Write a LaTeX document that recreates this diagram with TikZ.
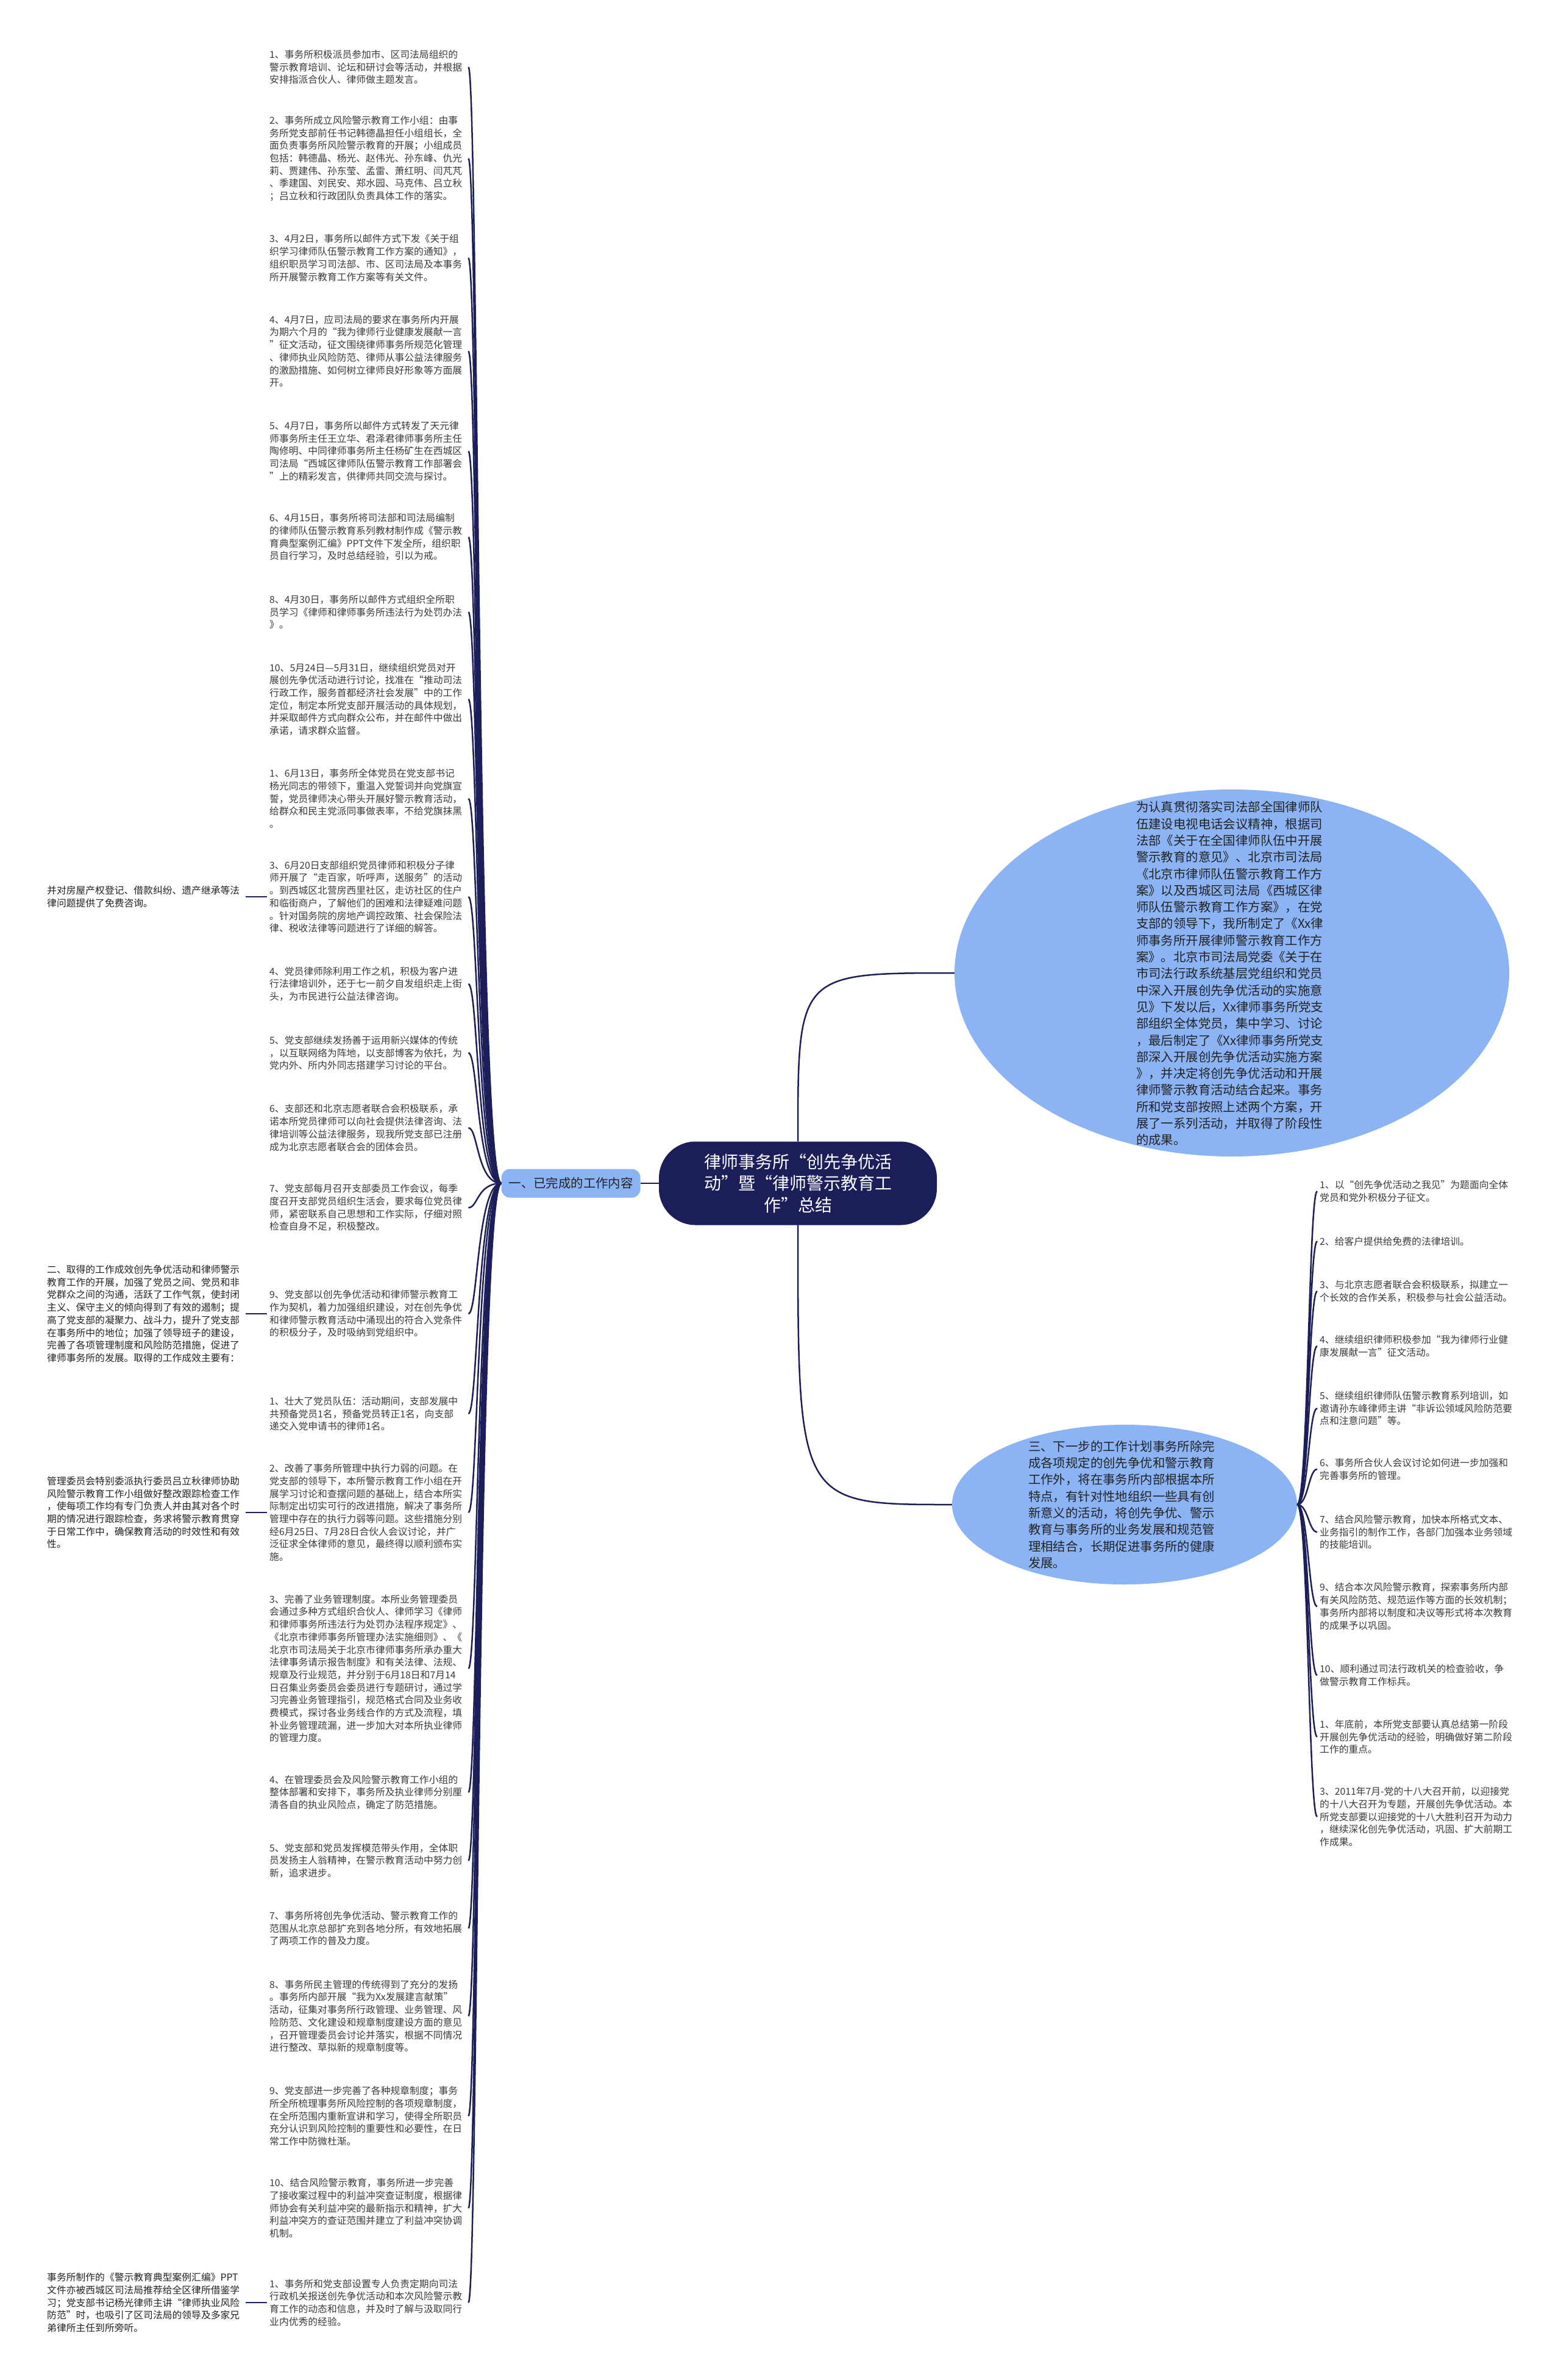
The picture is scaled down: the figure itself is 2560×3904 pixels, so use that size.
\documentclass[tikz,border=0pt]{standalone}
\usepackage{fontspec}
\setmainfont{Noto Sans CJK SC}
\usepackage{xcolor}
\usepackage{tikz}
\usetikzlibrary{positioning, shapes.geometric}
\definecolor{navy}{HTML}{1C1E5A}
\definecolor{bubbleblue}{HTML}{8CB4F5}
\definecolor{leafgray}{HTML}{3A3A3A}
\definecolor{inkgray}{HTML}{222222}
\setlength{\parindent}{0pt}
\newcommand\leaffont{\fontsize{15.8pt}{20.7pt}\selectfont}
\newcommand\bubblefont{\fontsize{20.4pt}{27.3pt}\selectfont}
\newcommand\titlefont{\fontsize{28pt}{35.7pt}\selectfont}

\begin{document}
\begin{tikzpicture}[x=1pt, y=-1pt,
  root/.style={rectangle, rounded corners=60pt, fill=navy, text=white,
               minimum width=456pt, minimum height=137pt, align=center, font=\titlefont},
  branch/.style={rectangle, rounded corners=14pt, fill=bubbleblue, text=inkgray,
                 minimum height=47pt, inner xsep=12pt, font=\bubblefont},
  bubble/.style={ellipse, fill=bubbleblue, inner sep=0pt},
  bubbletext/.style={text width=310pt, align=left, inner sep=0pt, text=inkgray, font=\bubblefont},
  leaf/.style={anchor=west, text width=322pt, align=left, inner xsep=4pt, inner ysep=2pt,
               text=leafgray, font=\leaffont},
  farleaf/.style={leaf, text=inkgray},
  link/.style={draw=navy, line width=2.5pt}
]
\fill[white] (0,0) rectangle (2560,3904);
\useasboundingbox (0,0) rectangle (2560,3904);

% Title
\node[root] (title) at (1309,1941) {律师事务所“创先争优活\\动”暨“律师警示教育工\\作”总结};

% Branch one
\node[branch, left=30pt of title] (done) {一、已完成的工作内容};

% Bubbles
\node[bubble, minimum width=910pt, minimum height=602pt] (idea) at (2021,1596) {};
\node[bubbletext] (ideatext) at (2019,1597) {为认真贯彻落实司法部全国律师队\\伍建设电视电话会议精神，根据司\\法部《关于在全国律师队伍中开展\\警示教育的意见》、北京市司法局\\《北京市律师队伍警示教育工作方\\案》以及西城区司法局《西城区律\\师队伍警示教育工作方案》，在党\\支部的领导下，我所制定了《Xx律\\师事务所开展律师警示教育工作方\\案》。北京市司法局党委《关于在\\市司法行政系统基层党组织和党员\\中深入开展创先争优活动的实施意\\见》下发以后，Xx律师事务所党支\\部组织全体党员，集中学习、讨论\\，最后制定了《Xx律师事务所党支\\部深入开展创先争优活动实施方案\\》，并决定将创先争优活动和开展\\律师警示教育活动结合起来。事务\\所和党支部按照上述两个方案，开\\展了一系列活动，并取得了阶段性\\的成果。};
\node[bubble, minimum width=566pt, minimum height=262pt] (plan) at (1845,2468) {};
\node[bubbletext, text width=306pt] (plantext) at (1840,2468) {三、下一步的工作计划事务所除完\\成各项规定的创先争优和警示教育\\工作外，将在事务所内部根据本所\\特点，有针对性地组织一些具有创\\新意义的活动，将创先争优、警示\\教育与事务所的业务发展和规范管\\理相结合，长期促进事务所的健康\\发展。};

% Work done
\node[leaf] (w1) at (438,110) {1、事务所积极派员参加市、区司法局组织的\\警示教育培训、论坛和研讨会等活动，并根据\\安排指派合伙人、律师做主题发言。};
\node[leaf] (w2) at (438,260) {2、事务所成立风险警示教育工作小组：由事\\务所党支部前任书记韩德晶担任小组组长，全\\面负责事务所风险警示教育的开展；小组成员\\包括：韩德晶、杨光、赵伟光、孙东峰、仇光\\莉、贾建伟、孙东莹、孟雷、萧红明、闫芃芃\\、季建国、刘民安、郑水园、马克伟、吕立秋\\；吕立秋和行政团队负责具体工作的落实。};
\node[leaf] (w3) at (438,423) {3、4月2日，事务所以邮件方式下发《关于组\\织学习律师队伍警示教育工作方案的通知》，\\组织职员学习司法部、市、区司法局及本事务\\所开展警示教育工作方案等有关文件。};
\node[leaf] (w4) at (438,576) {4、4月7日，应司法局的要求在事务所内开展\\为期六个月的“我为律师行业健康发展献一言\\”征文活动，征文围绕律师事务所规范化管理\\、律师执业风险防范、律师从事公益法律服务\\的激励措施、如何树立律师良好形象等方面展\\开。};
\node[leaf] (w5) at (438,740) {5、4月7日，事务所以邮件方式转发了天元律\\师事务所主任王立华、君泽君律师事务所主任\\陶修明、中同律师事务所主任杨矿生在西城区\\司法局“西城区律师队伍警示教育工作部署会\\”上的精彩发言，供律师共同交流与探讨。};
\node[leaf] (w6) at (438,881) {6、4月15日，事务所将司法部和司法局编制\\的律师队伍警示教育系列教材制作成《警示教\\育典型案例汇编》PPT文件下发全所，组织职\\员自行学习，及时总结经验，引以为戒。};
\node[leaf] (w7) at (438,1004) {8、4月30日，事务所以邮件方式组织全所职\\员学习《律师和律师事务所违法行为处罚办法\\》。};
\node[leaf] (w8) at (438,1147) {10、5月24日—5月31日，继续组织党员对开\\展创先争优活动进行讨论，找准在“推动司法\\行政工作，服务首都经济社会发展”中的工作\\定位，制定本所党支部开展活动的具体规划，\\并采取邮件方式向群众公布，并在邮件中做出\\承诺，请求群众监督。};
\node[leaf] (w9) at (438,1310) {1、6月13日，事务所全体党员在党支部书记\\杨光同志的带领下，重温入党誓词并向党旗宣\\誓，党员律师决心带头开展好警示教育活动，\\给群众和民主党派同事做表率，不给党旗抹黑\\。};
\node[leaf] (w10) at (438,1471) {3、6月20日支部组织党员律师和积极分子律\\师开展了“走百家，听呼声，送服务”的活动\\。到西城区北营房西里社区，走访社区的住户\\和临街商户，了解他们的困难和法律疑难问题\\。针对国务院的房地产调控政策、社会保险法\\律、税收法律等问题进行了详细的解答。};
\node[leaf] (w11) at (438,1614) {4、党员律师除利用工作之机，积极为客户进\\行法律培训外，还于七一前夕自发组织走上街\\头，为市民进行公益法律咨询。};
\node[leaf] (w12) at (438,1727) {5、党支部继续发扬善于运用新兴媒体的传统\\，以互联网络为阵地，以支部博客为依托，为\\党内外、所内外同志搭建学习讨论的平台。};
\node[leaf] (w13) at (438,1850) {6、支部还和北京志愿者联合会积极联系，承\\诺本所党员律师可以向社会提供法律咨询、法\\律培训等公益法律服务，现我所党支部已注册\\成为北京志愿者联合会的团体会员。};
\node[leaf] (w14) at (438,1981) {7、党支部每月召开支部委员工作会议，每季\\度召开支部党员组织生活会，要求每位党员律\\师，紧密联系自己思想和工作实际，仔细对照\\检查自身不足，积极整改。};
\node[leaf] (w15) at (438,2155) {9、党支部以创先争优活动和律师警示教育工\\作为契机，着力加强组织建设，对在创先争优\\和律师警示教育活动中涌现出的符合入党条件\\的积极分子，及时吸纳到党组织中。};
\node[leaf] (w16) at (438,2319) {1、壮大了党员队伍：活动期间，支部发展中\\共预备党员1名，预备党员转正1名，向支部\\递交入党申请书的律师1名。};
\node[leaf] (w17) at (438,2481) {2、改善了事务所管理中执行力弱的问题。在\\党支部的领导下，本所警示教育工作小组在开\\展学习讨论和查摆问题的基础上，结合本所实\\际制定出切实可行的改进措施，解决了事务所\\管理中存在的执行力弱等问题。这些措施分别\\经6月25日、7月28日合伙人会议讨论，并广\\泛征求全体律师的意见，最终得以顺利颁布实\\施。};
\node[leaf] (w18) at (438,2737) {3、完善了业务管理制度。本所业务管理委员\\会通过多种方式组织合伙人、律师学习《律师\\和律师事务所违法行为处罚办法程序规定》、\\《北京市律师事务所管理办法实施细则》、《\\北京市司法局关于北京市律师事务所承办重大\\法律事务请示报告制度》和有关法律、法规、\\规章及行业规范，并分别于6月18日和7月14\\日召集业务委员会委员进行专题研讨，通过学\\习完善业务管理指引，规范格式合同及业务收\\费模式，探讨各业务线合作的方式及流程，填\\补业务管理疏漏，进一步加大对本所执业律师\\的管理力度。};
\node[leaf] (w19) at (438,2940) {4、在管理委员会及风险警示教育工作小组的\\整体部署和安排下，事务所及执业律师分别厘\\清各自的执业风险点，确定了防范措施。};
\node[leaf] (w20) at (438,3052) {5、党支部和党员发挥模范带头作用，全体职\\员发扬主人翁精神，在警示教育活动中努力创\\新，追求进步。};
\node[leaf] (w21) at (438,3163) {7、事务所将创先争优活动、警示教育工作的\\范围从北京总部扩充到各地分所，有效地拓展\\了两项工作的普及力度。};
\node[leaf] (w22) at (438,3307) {8、事务所民主管理的传统得到了充分的发扬\\。事务所内部开展“我为Xx发展建言献策”\\活动，征集对事务所行政管理、业务管理、风\\险防范、文化建设和规章制度建设方面的意见\\，召开管理委员会讨论并落实，根据不同情况\\进行整改、草拟新的规章制度等。};
\node[leaf] (w23) at (438,3471) {9、党支部进一步完善了各种规章制度；事务\\所全所梳理事务所风险控制的各项规章制度，\\在全所范围内重新宣讲和学习，使得全所职员\\充分认识到风险控制的重要性和必要性，在日\\常工作中防微杜渐。};
\node[leaf] (w24) at (438,3622) {10、结合风险警示教育，事务所进一步完善\\了接收案过程中的利益冲突查证制度，根据律\\师协会有关利益冲突的最新指示和精神，扩大\\利益冲突方的查证范围并建立了利益冲突协调\\机制。};
\node[leaf] (w25) at (438,3777) {1、事务所和党支部设置专人负责定期向司法\\行政机关报送创先争优活动和本次风险警示教\\育工作的动态和信息，并及时了解与汲取同行\\业内优秀的经验。};

% Far left notes
\node[farleaf] (x1) at (73,1471) {并对房屋产权登记、借款纠纷、遗产继承等法\\律问题提供了免费咨询。};
\node[farleaf] (x2) at (73,2155) {二、取得的工作成效创先争优活动和律师警示\\教育工作的开展，加强了党员之间、党员和非\\党群众之间的沟通，活跃了工作气氛，使封闭\\主义、保守主义的倾向得到了有效的遏制；提\\高了党支部的凝聚力、战斗力，提升了党支部\\在事务所中的地位；加强了领导班子的建设，\\完善了各项管理制度和风险防范措施，促进了\\律师事务所的发展。取得的工作成效主要有：};
\node[farleaf] (x3) at (73,2481) {管理委员会特别委派执行委员吕立秋律师协助\\风险警示教育工作小组做好整改跟踪检查工作\\，使每项工作均有专门负责人并由其对各个时\\期的情况进行跟踪检查，务求将警示教育贯穿\\于日常工作中，确保教育活动的时效性和有效\\性。};
\node[farleaf] (x4) at (73,3777) {事务所制作的《警示教育典型案例汇编》PPT\\文件亦被西城区司法局推荐给全区律所借鉴学\\习；党支部书记杨光律师主讲“律师执业风险\\防范”时，也吸引了区司法局的领导及多家兄\\弟律所主任到所旁听。};

% Plan items
\node[leaf] (p1) at (2161,1954) {1、以“创先争优活动之我见”为题面向全体\\党员和党外积极分子征文。};
\node[leaf] (p2) at (2161,2036) {2、给客户提供给免费的法律培训。};
\node[leaf] (p3) at (2161,2118) {3、与北京志愿者联合会积极联系，拟建立一\\个长效的合作关系，积极参与社会公益活动。};
\node[leaf] (p4) at (2161,2208) {4、继续组织律师积极参加“我为律师行业健\\康发展献一言”征文活动。};
\node[leaf] (p5) at (2161,2310) {5、继续组织律师队伍警示教育系列培训，如\\邀请孙东峰律师主讲“非诉讼领域风险防范要\\点和注意问题”等。};
\node[leaf] (p6) at (2161,2410) {6、事务所合伙人会议讨论如何进一步加强和\\完善事务所的管理。};
\node[leaf] (p7) at (2161,2513) {7、结合风险警示教育，加快本所格式文本、\\业务指引的制作工作，各部门加强本业务领域\\的技能培训。};
\node[leaf] (p8) at (2161,2635) {9、结合本次风险警示教育，探索事务所内部\\有关风险防范、规范运作等方面的长效机制；\\事务所内部将以制度和决议等形式将本次教育\\的成果予以巩固。};
\node[leaf] (p9) at (2161,2748) {10、顺利通过司法行政机关的检查验收，争\\做警示教育工作标兵。};
\node[leaf] (p10) at (2161,2849) {1、年底前，本所党支部要认真总结第一阶段\\开展创先争优活动的经验，明确做好第二阶段\\工作的重点。};
\node[leaf] (p11) at (2161,2980) {3、2011年7月-党的十八大召开前，以迎接党\\的十八大召开为专题，开展创先争优活动。本\\所党支部要以迎接党的十八大胜利召开为动力\\，继续深化创先争优活动，巩固、扩大前期工\\作成果。};

% Title links
\draw[link] (title) -- (done);
\draw[link] (title.north) .. controls (title.north |- idea.west) .. (idea.west);
\draw[link] (title.south) .. controls (title.south |- plan.west) .. (plan.west);

% Work done links
\draw[link] (done.west) .. controls +(-40,0) and +(16,0) .. (w1.east);
\draw[link] (done.west) .. controls +(-40,0) and +(16,0) .. (w2.east);
\draw[link] (done.west) .. controls +(-40,0) and +(16,0) .. (w3.east);
\draw[link] (done.west) .. controls +(-40,0) and +(16,0) .. (w4.east);
\draw[link] (done.west) .. controls +(-40,0) and +(16,0) .. (w5.east);
\draw[link] (done.west) .. controls +(-40,0) and +(16,0) .. (w6.east);
\draw[link] (done.west) .. controls +(-40,0) and +(16,0) .. (w7.east);
\draw[link] (done.west) .. controls +(-40,0) and +(16,0) .. (w8.east);
\draw[link] (done.west) .. controls +(-40,0) and +(16,0) .. (w9.east);
\draw[link] (done.west) .. controls +(-40,0) and +(16,0) .. (w10.east);
\draw[link] (done.west) .. controls +(-40,0) and +(16,0) .. (w11.east);
\draw[link] (done.west) .. controls +(-40,0) and +(16,0) .. (w12.east);
\draw[link] (done.west) .. controls +(-40,0) and +(16,0) .. (w13.east);
\draw[link] (done.west) .. controls +(-40,0) and +(16,0) .. (w14.east);
\draw[link] (done.west) .. controls +(-40,0) and +(16,0) .. (w15.east);
\draw[link] (done.west) .. controls +(-40,0) and +(16,0) .. (w16.east);
\draw[link] (done.west) .. controls +(-40,0) and +(16,0) .. (w17.east);
\draw[link] (done.west) .. controls +(-40,0) and +(16,0) .. (w18.east);
\draw[link] (done.west) .. controls +(-40,0) and +(16,0) .. (w19.east);
\draw[link] (done.west) .. controls +(-40,0) and +(16,0) .. (w20.east);
\draw[link] (done.west) .. controls +(-40,0) and +(16,0) .. (w21.east);
\draw[link] (done.west) .. controls +(-40,0) and +(16,0) .. (w22.east);
\draw[link] (done.west) .. controls +(-40,0) and +(16,0) .. (w23.east);
\draw[link] (done.west) .. controls +(-40,0) and +(16,0) .. (w24.east);
\draw[link] (done.west) .. controls +(-40,0) and +(16,0) .. (w25.east);

% Far left links
\draw[link] (w10.west) -- (x1.east);
\draw[link] (w15.west) -- (x2.east);
\draw[link] (w17.west) -- (x3.east);
\draw[link] (w25.west) -- (x4.east);

% Plan links
\draw[link] (plan.east) .. controls +(18,0) and +(-14,0) .. (p1.west);
\draw[link] (plan.east) .. controls +(18,0) and +(-14,0) .. (p2.west);
\draw[link] (plan.east) .. controls +(18,0) and +(-14,0) .. (p3.west);
\draw[link] (plan.east) .. controls +(18,0) and +(-14,0) .. (p4.west);
\draw[link] (plan.east) .. controls +(18,0) and +(-14,0) .. (p5.west);
\draw[link] (plan.east) .. controls +(18,0) and +(-14,0) .. (p6.west);
\draw[link] (plan.east) .. controls +(18,0) and +(-14,0) .. (p7.west);
\draw[link] (plan.east) .. controls +(18,0) and +(-14,0) .. (p8.west);
\draw[link] (plan.east) .. controls +(18,0) and +(-14,0) .. (p9.west);
\draw[link] (plan.east) .. controls +(18,0) and +(-14,0) .. (p10.west);
\draw[link] (plan.east) .. controls +(18,0) and +(-14,0) .. (p11.west);

\end{tikzpicture}
\end{document}
